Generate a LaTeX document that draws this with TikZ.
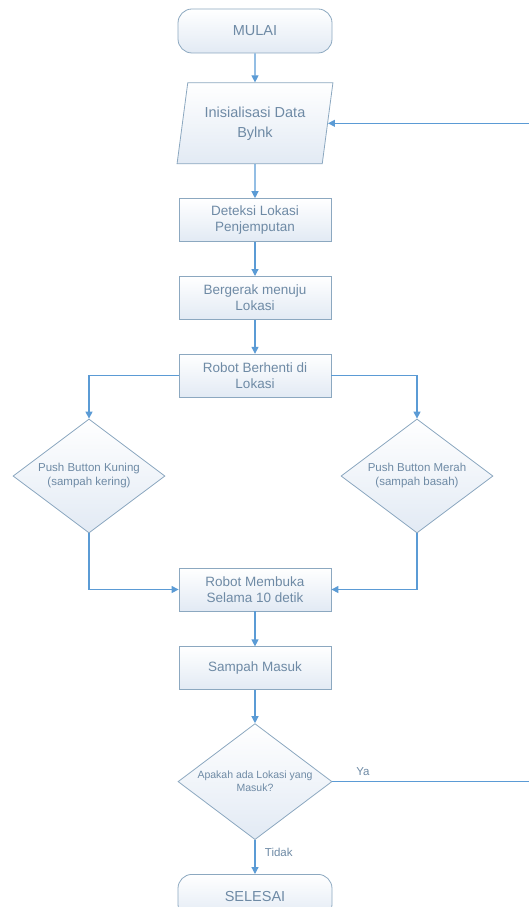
\documentclass[tikz,border=0pt]{standalone}
\usepackage{fontspec}
\setmainfont{Liberation Sans}
\usetikzlibrary{shapes.geometric, arrows.meta, positioning}

\definecolor{flowline}{RGB}{91,155,213}
\definecolor{flowedge}{RGB}{140,168,192}
\definecolor{flowtext}{RGB}{110,138,165}
\definecolor{flowfill}{RGB}{226,234,244}

\begin{document}
\begin{tikzpicture}[
    x=1pt, y=1pt,
    node distance=34pt,
    every node/.style={text=flowtext},
    startstop/.style={rectangle, rounded corners=14pt, minimum width=154pt, minimum height=44pt, text centered, draw=flowedge, line width=0.8pt, top color=white, bottom color=flowfill, font=\fontsize{14.5}{17}\selectfont},
    io/.style={trapezium, trapezium left angle=78, trapezium right angle=102, trapezium stretches=true, minimum width=156pt, minimum height=81pt, align=center, draw=flowedge, line width=0.8pt, top color=white, bottom color=flowfill, font=\fontsize{14.5}{20}\selectfont},
    process/.style={rectangle, minimum width=152pt, minimum height=43pt, align=center, draw=flowedge, line width=0.8pt, top color=white, bottom color=flowfill, font=\fontsize{13.5}{16}\selectfont},
    decision/.style={diamond, aspect=1.33, minimum width=152pt, minimum height=114pt, inner sep=0pt, align=center, draw=flowedge, line width=0.8pt, top color=white, bottom color=flowfill, font=\fontsize{11.5}{14}\selectfont},
    arrow/.style={draw=flowline, line width=1.2pt, -{Triangle[width=7pt,length=7pt]}},
    answer/.style={font=\fontsize{11.5}{13}\selectfont},
]
    \useasboundingbox (0,0) rectangle (529,907);
    \clip (0,0) rectangle (529,907);

    % start and input
    \node (mulai) [startstop] at (255,876) {MULAI};
    \node (init) [io, below=29pt of mulai] {Inisialisasi Data\\Bylnk};

    % process chain
    \node (deteksi) [process, below=of init] {Deteksi Lokasi\\Penjemputan};
    \node (bergerak) [process, below=of deteksi] {Bergerak menuju\\Lokasi};
    \node (berhenti) [process, below=of bergerak] {Robot Berhenti di\\Lokasi};

    % push buttons
    \node (kuning) [decision, below=21pt of berhenti, xshift=-166pt] {Push Button Kuning\\(sampah kering)};
    \node (merah) [decision, below=21pt of berhenti, xshift=162pt] {Push Button Merah\\(sampah basah)};

    \node (membuka) [process, below=170pt of berhenti] {Robot Membuka\\Selama 10 detik};
    \node (sampah) [process, below=35pt of membuka] {Sampah Masuk};

    % check and end
    \node (cek) [decision, below=33pt of sampah, minimum width=154pt, minimum height=116pt, font=\fontsize{10.5}{13}\selectfont] {Apakah ada Lokasi yang\\Masuk?};
    \node (selesai) [startstop, below=of cek] {SELESAI};

    \coordinate (loopR) at (536,0);

    \draw [arrow] (mulai) -- (init);
    \draw [arrow] (init) -- (deteksi);
    \draw [arrow] (deteksi) -- (bergerak);
    \draw [arrow] (bergerak) -- (berhenti);
    \draw [arrow] (berhenti.west) -| (kuning.north);
    \draw [arrow] (berhenti.east) -| (merah.north);
    \draw [arrow] (kuning.south) |- (membuka.west);
    \draw [arrow] (merah.south) |- (membuka.east);
    \draw [arrow] (membuka) -- (sampah);
    \draw [arrow] (sampah) -- (cek);
    \draw [arrow] (cek) -- node [answer, right, pos=0.35, xshift=6pt] {Tidak} (selesai);
    \draw [arrow] (cek.east) -- node [answer, pos=0.15, above, yshift=2pt] {Ya} (cek.east -| loopR) |- (init.east);

\end{tikzpicture}
\end{document}
